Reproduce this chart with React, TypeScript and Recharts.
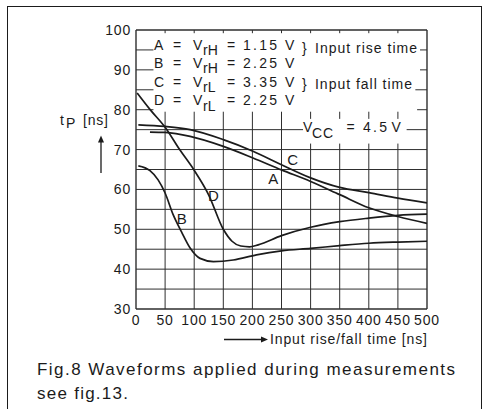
import { LineChart, Line, XAxis, YAxis, ReferenceLine } from 'recharts';

// curve data (x: input rise/fall time ns, y: tP ns)
const curveA = [
  { x: 24, y: 74.4 }, { x: 50, y: 74.3 }, { x: 93, y: 73.3 }, { x: 150, y: 70.8 }, { x: 201, y: 67.9 },
  { x: 250, y: 64.9 }, { x: 300, y: 62 }, { x: 350, y: 58.7 }, { x: 400, y: 55.4 }, { x: 450, y: 53.2 },
  { x: 500, y: 51.5 },
];
const curveB = [
  { x: 4, y: 65.9 }, { x: 24, y: 64.7 }, { x: 38, y: 62.4 }, { x: 50, y: 59.1 }, { x: 64, y: 53.6 },
  { x: 78, y: 49.4 }, { x: 93, y: 45.3 }, { x: 110, y: 42.7 }, { x: 133, y: 41.9 }, { x: 167, y: 42.3 },
  { x: 207, y: 43.6 }, { x: 250, y: 44.6 }, { x: 300, y: 45.2 }, { x: 350, y: 45.9 }, { x: 400, y: 46.5 },
  { x: 450, y: 46.8 }, { x: 500, y: 47 },
];
const curveC = [
  { x: 4, y: 76.2 }, { x: 50, y: 75.8 }, { x: 93, y: 75 }, { x: 150, y: 72.5 }, { x: 201, y: 69.6 },
  { x: 250, y: 66.2 }, { x: 300, y: 62.9 }, { x: 350, y: 60.5 }, { x: 400, y: 59.2 }, { x: 450, y: 57.8 },
  { x: 500, y: 56.6 },
];
const curveD = [
  { x: 2, y: 84.2 }, { x: 25, y: 79.9 }, { x: 50, y: 75.6 }, { x: 75, y: 70 }, { x: 100, y: 64.8 },
  { x: 125, y: 58.6 }, { x: 150, y: 50 }, { x: 165, y: 47 }, { x: 180, y: 45.8 }, { x: 195, y: 45.6 },
  { x: 210, y: 46.1 }, { x: 250, y: 48.4 }, { x: 300, y: 50.5 }, { x: 350, y: 51.9 }, { x: 400, y: 52.8 },
  { x: 450, y: 53.5 }, { x: 500, y: 53.8 },
];

const xTicks = [0, 50, 100, 150, 200, 250, 300, 350, 400, 450, 500];
const yTicks = [30, 40, 50, 60, 70, 80, 90, 100];

// grid pieces (the upper part is left open for the legend text)
const fullRows = [35, 40, 45, 50, 55, 60, 65, 70];
const stubRows = [
  { y: 80, right: 483 }, { y: 85, right: 480 }, { y: 90, right: 488 }, { y: 95, right: 488 },
];
const plainCols = [50, 100, 150, 200, 250];
const brokenCols = [300, 350, 400, 450];

const INK = '#1b1b1b';
const GRID = '#2e2e2e';
const FONT = '"Liberation Sans", Arial, Helvetica, sans-serif';

function seg(x1: number, y1: number, x2: number, y2: number, key: string, w = 1) {
  return (
    <ReferenceLine key={key} segment={[{ x: x1, y: y1 }, { x: x2, y: y2 }]} stroke={GRID} strokeWidth={w} />
  );
}

function LegendRow({ letter, sub, value, y }: { letter: string; sub: string; value: string; y: number }) {
  return (
    <g>
      <text x={154} y={y}>{letter}</text>
      <text x={173} y={y}>=</text>
      <text x={193} y={y}>V</text>
      <text x={203} y={y + 5.5}>{sub}</text>
      <text x={227} y={y}>=</text>
      <text x={243} y={y} textLength={34} lengthAdjust="spacing">{value}</text>
      <text x={285} y={y}>V</text>
    </g>
  );
}

function Annotations() {
  return (
    <svg width={491} height={409} style={{ position: 'absolute', left: 0, top: 0, pointerEvents: 'none' }}
      fontFamily={FONT} fontSize={14} fill={INK}>
      <LegendRow letter="A" sub="rH" value="1.15" y={49.5} />
      <LegendRow letter="B" sub="rH" value="2.25" y={67.5} />
      <LegendRow letter="C" sub="rL" value="3.35" y={86.5} />
      <LegendRow letter="D" sub="rL" value="2.25" y={105} />
      <text x={302} y={53}>{'}'}</text>
      <text x={315} y={53} textLength={102} lengthAdjust="spacing">Input rise time</text>
      <text x={302} y={88.5}>{'}'}</text>
      <text x={315} y={88.5} textLength={97} lengthAdjust="spacing">Input fall time</text>

      <text x={303} y={131.7}>V</text>
      <text x={312} y={138} textLength={21} lengthAdjust="spacing">CC</text>
      <text x={346.5} y={131.7}>=</text>
      <text x={363} y={131.7} textLength={24} lengthAdjust="spacing">4.5</text>
      <text x={391.5} y={131.7}>V</text>

      <text x={60} y={125}>t</text>
      <text x={66} y={128}>P</text>
      <text x={83} y={124.5} textLength={25} lengthAdjust="spacing">[ns]</text>
      <line x1={101} y1={173} x2={101} y2={141} stroke={INK} strokeWidth={1.3} />
      <polygon points="101,135.5 98,142.5 104,142.5" fill={INK} />

      <line x1={224} y1={339.5} x2={262} y2={339.5} stroke={INK} strokeWidth={1.3} />
      <polygon points="268,339.5 261,336.5 261,342.5" fill={INK} />
      <text x={270} y={343.5} textLength={157} lengthAdjust="spacing">Input rise/fall time [ns]</text>

      <text x={292.7} y={164.5} fontSize={15} textAnchor="middle">C</text>
      <text x={273.3} y={183.5} fontSize={15} textAnchor="middle">A</text>
      <text x={213.3} y={200.5} fontSize={15} textAnchor="middle">D</text>
      <text x={181.7} y={223.5} fontSize={15} textAnchor="middle">B</text>

      <text x={37} y={375} fontSize={17} textLength={418} lengthAdjust="spacing">
        Fig.8 Waveforms applied during measurements
      </text>
      <text x={37} y={398.5} fontSize={17} textLength={91} lengthAdjust="spacing">see fig.13.</text>
    </svg>
  );
}

export default function App() {
  const tick = { fill: INK, fontSize: 14, fontFamily: FONT, letterSpacing: 0.8 };
  return (
    <div style={{ position: 'absolute', left: 0, top: 0, width: 491, height: 409, background: '#fff' }}>
      <div
        style={{
          position: 'absolute', left: 7, top: 6, width: 473, height: 420,
          borderLeft: `1.6px solid ${INK}`, borderTop: `1.6px solid ${INK}`, borderRight: `1.6px solid ${INK}`,
        }}
      />
      <div style={{ position: 'absolute', left: 0, top: 0 }}>
        <LineChart width={491} height={409} margin={{ top: 30, right: 64, left: 0, bottom: 0 }}>
          <XAxis
            dataKey="x" type="number" domain={[0, 500]} ticks={xTicks} interval={0}
            axisLine={false} tickLine={false} tickSize={0} tickMargin={6} height={100} tick={tick}
            allowDataOverflow
          />
          <YAxis
            dataKey="y" type="number" domain={[30, 100]} ticks={yTicks} interval={0}
            axisLine={false} tickLine={false} tickSize={0} tickMargin={5} width={136} tick={tick}
            allowDataOverflow
          />
          {fullRows.map((y) => seg(0, y, 500, y, `r${y}`))}
          {seg(0, 75, 287, 75, 'r75a')}
          {seg(465, 75, 500, 75, 'r75b')}
          {stubRows.map((r) => seg(0, r.y, 30, r.y, `sl${r.y}`))}
          {stubRows.map((r) => seg(r.right, r.y, 500, r.y, `sr${r.y}`))}
          {plainCols.map((x) => seg(x, 30, x, 79.5, `c${x}`))}
          {brokenCols.map((x) => seg(x, 30, x, 71.5, `ca${x}`))}
          {brokenCols.map((x) => seg(x, 77.7, x, 79.5, `cb${x}`))}
          {xTicks.slice(1, -1).map((x) => seg(x, 99.2, x, 100, `t${x}`))}
          {seg(0, 30, 500, 30, 'bb', 1.4)}
          {seg(0, 100, 500, 100, 'bt', 1.4)}
          {seg(0, 30, 0, 100, 'bl', 1.4)}
          {seg(500, 30, 500, 100, 'br', 1.4)}
          <Line data={curveA} dataKey="y" type="monotone" stroke={INK} strokeWidth={1.7} dot={false} isAnimationActive={false} />
          <Line data={curveB} dataKey="y" type="monotone" stroke={INK} strokeWidth={1.7} dot={false} isAnimationActive={false} />
          <Line data={curveC} dataKey="y" type="monotone" stroke={INK} strokeWidth={1.7} dot={false} isAnimationActive={false} />
          <Line data={curveD} dataKey="y" type="monotone" stroke={INK} strokeWidth={1.7} dot={false} isAnimationActive={false} />
        </LineChart>
      </div>
      <Annotations />
    </div>
  );
}
